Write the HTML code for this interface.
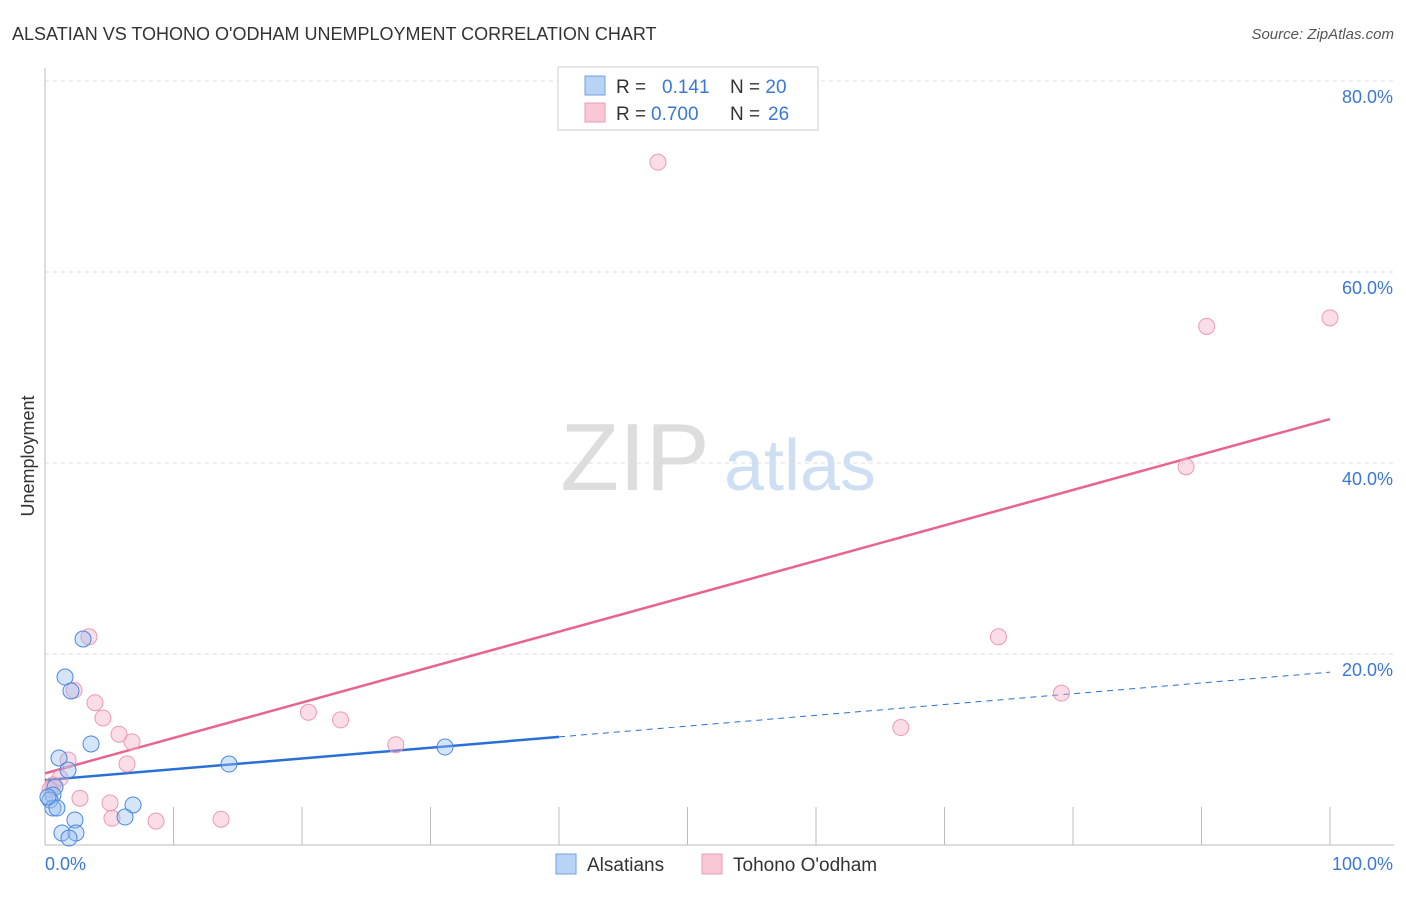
<!DOCTYPE html>
<html><head><meta charset="utf-8"><style>
body{margin:0;background:#fff;font-family:"Liberation Sans",sans-serif}
svg text{font-family:"Liberation Sans",sans-serif}
</style></head><body>
<svg id="chart" width="1406" height="892" xmlns="http://www.w3.org/2000/svg">
<text x="12" y="40" font-size="18" fill="#333">ALSATIAN VS TOHONO O'ODHAM UNEMPLOYMENT CORRELATION CHART</text>
<text x="1394" y="39" font-size="15" fill="#555" font-style="italic" text-anchor="end">Source: ZipAtlas.com</text>
<text x="34" y="456" font-size="18" fill="#333" text-anchor="middle" transform="rotate(-90 34 456)">Unemployment</text>
<g><text x="635" y="490" font-size="96" fill="#ddd" font-family="Liberation Serif" text-anchor="middle">ZIP</text><text x="800" y="490" font-size="72" fill="#cfdff3" text-anchor="middle">atlas</text></g>
<g id="grid"></g><g id="axes"></g><g id="trends"></g><g id="points"></g>
<g>
<rect x="558" y="67" width="260" height="63" fill="#fff" stroke="#ccc"/>
<rect x="585" y="76" width="20" height="19" fill="#b9d3f5" stroke="#6fa0e6"/>
<rect x="585" y="103" width="20" height="19" fill="#f9c8d6" stroke="#ec9ab3"/>
<text x="616" y="93" font-size="19" fill="#333">R = <tspan fill="#3a78d4" x="662">0.141</tspan><tspan x="730" fill="#333">N = </tspan><tspan fill="#3a78d4">20</tspan></text>
<text x="616" y="120" font-size="19" fill="#333">R = <tspan fill="#3a78d4" x="651">0.700</tspan><tspan x="730" fill="#333">N = </tspan><tspan fill="#3a78d4" x="768">26</tspan></text>
</g>
<g>
<rect x="556" y="854" width="20" height="20" fill="#b9d3f5" stroke="#6fa0e6"/>
<text x="587" y="871" font-size="19" fill="#333">Alsatians</text>
<rect x="702" y="854" width="20" height="20" fill="#f9c8d6" stroke="#ec9ab3"/>
<text x="733" y="871" font-size="19" fill="#333">Tohono O'odham</text>
</g>
</svg>
<script>
const yTicks=[20,40,60,80];
const yTickLabels=["20.0%","40.0%","60.0%","80.0%"];
const xTickLabels=["0.0%","100.0%"];
const blueX=[2.96,1.56,2.02,3.58,1.09,1.79,0.78,0.62,0.39,0.62,0.93,6.85,6.23,2.33,1.32,2.41,1.87,14.32,31.13,0.23];
const blueY=[21.57,17.59,16.13,10.58,9.11,7.85,6.07,5.24,4.71,3.87,3.87,4.19,2.93,2.62,1.26,1.26,0.73,8.48,10.26,5.03];
const pinkX=[47.7,90.4,100,88.8,74.2,79.1,66.6,3.42,2.26,3.89,4.51,5.76,6.77,1.79,1.17,0.62,6.38,20.5,23.0,27.3,2.72,5.06,5.21,8.64,13.7,0.39];
const pinkY=[71.5,54.3,55.2,39.6,21.8,15.9,12.3,21.8,16.2,14.9,13.3,11.6,10.8,8.9,7.0,6.3,8.5,13.9,13.1,10.5,4.9,4.4,2.8,2.5,2.7,5.8];
const blueTrend=[6.8,18.1];
const blueSolidEnd=40;
const pinkTrend=[7.5,44.6];
const NS="http://www.w3.org/2000/svg";
const sx=v=>45+v*12.85, sy=v=>845-v*9.55;
function mk(tag,attrs,parent){const e=document.createElementNS(NS,tag);for(const k in attrs)e.setAttribute(k,attrs[k]);document.getElementById(parent).appendChild(e);return e;}
const lerp=(a,t)=>a[0]+(a[1]-a[0])*t;
yTicks.forEach((t,i)=>{
 const l=mk('line',{x1:45,x2:1394,y1:sy(t),y2:sy(t),stroke:'#ddd','stroke-dasharray':'4 4'},'grid');
 
 
 const tx=mk('text',{x:1393,y:sy(t)+22,'font-size':18,fill:'#3a78d4','text-anchor':'end'},'grid');
 tx.textContent=yTickLabels[i];
 
 
});
let a=mk('line',{x1:45,x2:45,y1:68,y2:845,stroke:'#bbb'},'axes');


a=mk('line',{x1:45,x2:1394,y1:845,y2:845,stroke:'#bbb'},'axes');


for(let k=1;k<=10;k++){const t=mk('line',{x1:sx(k*10),x2:sx(k*10),y1:807,y2:845,stroke:'#bbb'},'axes');
 
 }
[[0,'start',45],[100,'end',1393]].forEach(([v,anc,x],i)=>{const t=mk('text',{x:x,y:870,'font-size':18,fill:'#3a78d4','text-anchor':anc},'axes');t.textContent=xTickLabels[i];
 
 });
let tl=mk('line',{x1:sx(0),y1:sy(blueTrend[0]),x2:sx(blueSolidEnd),y2:sy(lerp(blueTrend,blueSolidEnd/100)),stroke:'#2a6fd6','stroke-width':2.5},'trends');


tl=mk('line',{x1:sx(blueSolidEnd),y1:sy(lerp(blueTrend,blueSolidEnd/100)),x2:sx(100),y2:sy(blueTrend[1]),stroke:'#2a6fd6','stroke-width':1,'stroke-dasharray':'6 5'},'trends');


tl=mk('line',{x1:sx(0),y1:sy(pinkTrend[0]),x2:sx(100),y2:sy(pinkTrend[1]),stroke:'#e8638f','stroke-width':2.5},'trends');


pinkX.forEach((x,i)=>{const c=mk('circle',{cx:sx(x),cy:sy(pinkY[i]),r:8,fill:'rgba(246,170,195,0.4)',stroke:'#ec9ab3','stroke-width':1},'points');
 
 });
blueX.forEach((x,i)=>{const c=mk('circle',{cx:sx(x),cy:sy(blueY[i]),r:8,fill:'rgba(150,190,240,0.4)',stroke:'#4a88dd','stroke-width':1},'points');
 
 });
</script>
</body></html>
